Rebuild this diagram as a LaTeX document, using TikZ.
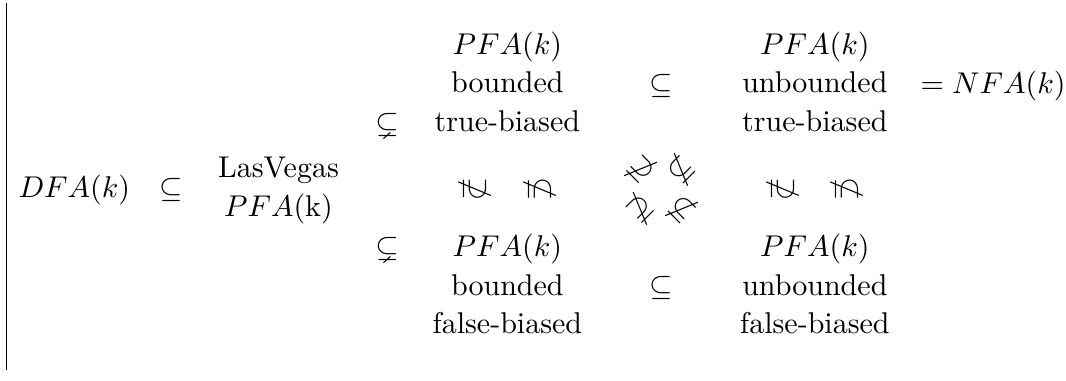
\documentclass[tikz,border=0pt]{standalone}
\usepackage{amsmath}
\usepackage{amssymb}
\usepackage{tikz}
\usetikzlibrary{positioning}
\usetikzlibrary{calc}

\tikzset{
  cls/.style={inner sep=0pt, text height=1.7ex, text depth=.55ex},
  rel/.style={inner sep=0pt},
  nrel/.style={inner sep=0pt, rotate=#1}
}

\begin{document}
\begin{tikzpicture}
  %\draw [help lines, dotted] (-8,-2) grid (5,2);
  \useasboundingbox (-77.4mm,22.2mm) rectangle (47.4mm,-22.3mm);

  \coordinate (center) at (0,0);
  \coordinate (BarTop) at ([xshift=-76.6mm, yshift= 21.9mm] center);
  \coordinate (BarBot) at ([xshift=-76.6mm, yshift=-21.1mm] center);
  \draw (BarTop) -- (BarBot);

  \node[cls](DFA)      at ([xshift=-68.7mm] center) {$DFA(k)$};
  \node[rel](subDFA)   at ([xshift=-57.4mm] center) {$\subseteq$};
  \node[cls](LasVegas) at ([xshift=-44.8mm, yshift= 2.3mm] center) {LasVegas};
  \node[cls](LVPFA)    at ([xshift=-44.8mm, yshift=-2.3mm] center) {$PFA$(k)};
  \node[rel](subTop)   at ([xshift=-32.1mm, yshift= 7.6mm] center) {$\subsetneq$};
  \node[rel](subBot)   at ([xshift=-32.1mm, yshift=-7.0mm] center) {$\subsetneq$};

  % bounded classes
  \node[cls](TopBnd)    at ([xshift=-18mm, yshift= 16.7mm] center) {$PFA(k)$};
  \node[cls](TopBndA)   [below=4.5mm of TopBnd.center, anchor=center] {bounded};
  \node[cls](TopBndB)   [below=4.5mm of TopBndA.center, anchor=center] {true-biased};
  \node[cls](BotBnd)    at ([xshift=-18mm, yshift= -7.0mm] center) {$PFA(k)$};
  \node[cls](BotBndA)   [below=4.5mm of BotBnd.center, anchor=center] {bounded};
  \node[cls](BotBndB)   [below=4.5mm of BotBndA.center, anchor=center] {false-biased};
  \node[nrel=-90](BndL) at ([xshift=-21.8mm] center) {$\nsupseteq$};
  \node[nrel=-90](BndR) at ([xshift=-14.2mm] center) {$\nsubseteq$};

  % unbounded classes
  \node[cls](TopUnb)    at ([xshift= 18mm, yshift= 16.7mm] center) {$PFA(k)$};
  \node[cls](TopUnbA)   [below=4.5mm of TopUnb.center, anchor=center] {unbounded};
  \node[cls](TopUnbB)   [below=4.5mm of TopUnbA.center, anchor=center] {true-biased};
  \node[cls](BotUnb)    at ([xshift= 18mm, yshift= -7.0mm] center) {$PFA(k)$};
  \node[cls](BotUnbA)   [below=4.5mm of BotUnb.center, anchor=center] {unbounded};
  \node[cls](BotUnbB)   [below=4.5mm of BotUnbA.center, anchor=center] {false-biased};
  \node[nrel=-90](UnbL) at ([xshift= 14.2mm] center) {$\nsupseteq$};
  \node[nrel=-90](UnbR) at ([xshift= 21.8mm] center) {$\nsubseteq$};

  \node[rel](subBndTop) at ([yshift= 12.1mm] center) {$\subseteq$};
  \node[rel](subBndBot) at ([yshift=-11.5mm] center) {$\subseteq$};
  \node[cls, anchor=west](NFA) at ([xshift= 30.3mm, yshift= 12.1mm] center) {$= NFA(k)$};

  % crossed relations between the two columns
  \node[nrel=-45](XTL) at ([xshift=-2.4mm, yshift= 2.3mm] center) {$\nsupseteq$};
  \node[nrel= 45](XTR) at ([xshift= 2.4mm, yshift= 2.3mm] center) {$\nsubseteq$};
  \node[nrel= 45](XBL) at ([xshift=-2.4mm, yshift=-2.3mm] center) {$\nsupseteq$};
  \node[nrel=-45](XBR) at ([xshift= 2.4mm, yshift=-2.3mm] center) {$\nsubseteq$};

\end{tikzpicture}
\end{document}
